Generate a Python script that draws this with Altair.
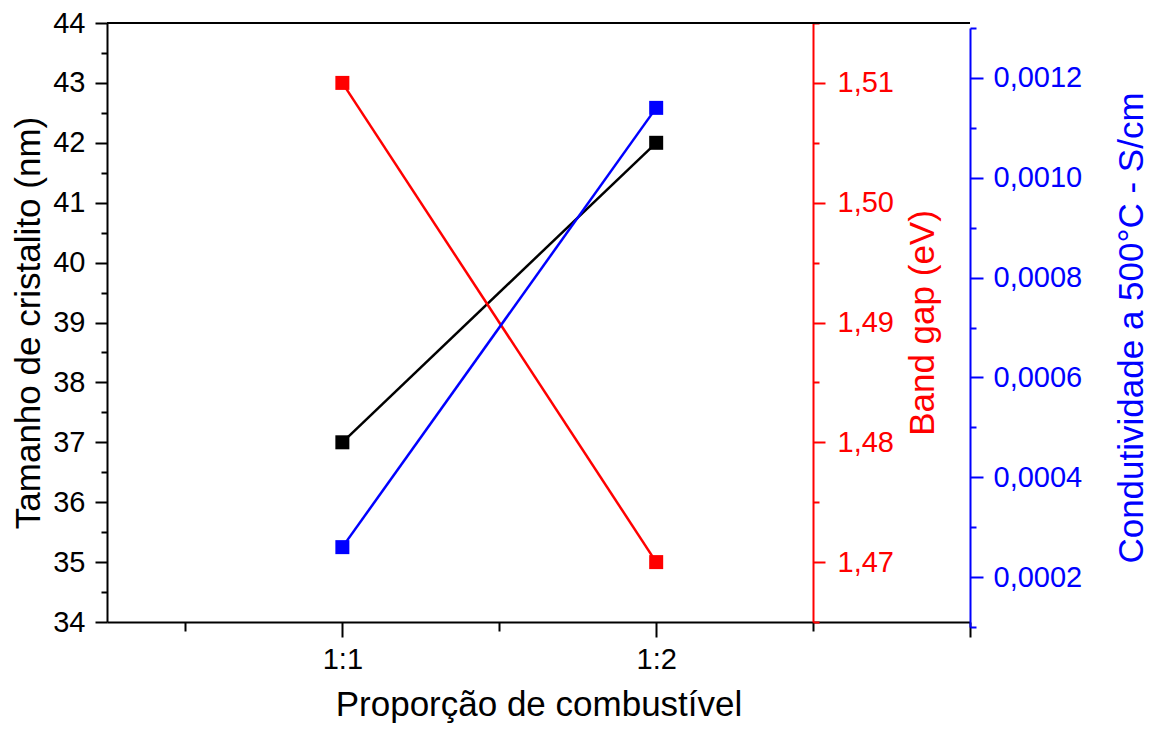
import altair as alt
import pandas as pd

# ---- data ----
categories = ["1:1", "1:2"]
crystallite_nm = [37, 42]
band_gap_ev = [1.51, 1.47]
conductivity_s_cm = [0.00026, 0.00114]

# ---- axis tick lists ----
x_ticks = [0.5, 1, 1.5, 2, 2.5, 3]
left_ticks = [34, 34.5, 35, 35.5, 36, 36.5, 37, 37.5, 38, 38.5, 39, 39.5,
              40, 40.5, 41, 41.5, 42, 42.5, 43, 43.5, 44]
red_ticks = [1.465, 1.47, 1.475, 1.48, 1.485, 1.49, 1.495, 1.5, 1.505, 1.51, 1.515]
blue_ticks = [0.0001, 0.0002, 0.0003, 0.0004, 0.0005, 0.0006, 0.0007,
              0.0008, 0.0009, 0.0010, 0.0011, 0.0012, 0.0013]

df = pd.DataFrame({
    "cat": categories,
    "pos": [i + 1 for i in range(len(categories))],
    "crystallite": crystallite_nm,
    "bandgap": band_gap_ev,
    "cond": conductivity_s_cm,
})

W, H = 863, 599
FONT = "Liberation Sans"
TICK_FS = 29
TITLE_FS = 35

def cond_size(test, big, small):
    return {"condition": {"test": test, "value": big}, "value": small}

cat_list = "[" + ",".join("'" + c + "'" for c in categories) + "]"

x_enc = alt.X(
    "pos:Q",
    scale=alt.Scale(domain=[0.25, 3.0], nice=False, zero=False),
    axis=alt.Axis(
        orient="bottom", values=x_ticks,
        labelExpr=cat_list + "[datum.value - 1] || ''",
        tickSize=cond_size("datum.value % 1 === 0", 15, 9),
        tickWidth=2, tickColor="black", domainColor="black", domainWidth=2,
        labelFont=FONT, labelFontSize=TICK_FS, labelColor="black",
        labelPadding=8, labelFlush=False, labelOverlap=False, labelBound=False,
        title="Proporção de combustível", titleFont=FONT, titleFontSize=TITLE_FS,
        titleFontWeight="normal", titleColor="black", titleY=93,
        titleBaseline="alphabetic", grid=False,
    ),
)

def series(field, color, scale, axis):
    return alt.Chart(df).mark_line(
        color=color, strokeWidth=2.5,
        point=alt.OverlayMarkDef(shape="square", size=196, filled=True,
                                 color=color, opacity=1),
    ).encode(x=x_enc, y=alt.Y(field + ":Q", scale=scale, axis=axis))

black = series(
    "crystallite", "black",
    alt.Scale(domain=[34, 44], nice=False, zero=False),
    alt.Axis(
        orient="left", values=left_ticks,
        labelExpr="datum.value % 1 === 0 ? format(datum.value, 'd') : ''",
        tickSize=cond_size("datum.value % 1 === 0", 12, 6),
        tickWidth=2, tickColor="black", domainColor="black", domainWidth=2,
        labelFont=FONT, labelFontSize=TICK_FS, labelColor="black",
        labelPadding=10, labelOverlap=False, labelFlush=False, labelBound=False,
        title="Tamanho de cristalito (nm)", titleFont=FONT,
        titleFontSize=TITLE_FS, titleFontWeight="normal", titleColor="black",
        titleX=-79, titleY=H / 2, titleAngle=270, titleAlign="center",
        titleBaseline="middle", grid=False,
    ),
)

red = series(
    "bandgap", "#ff0000",
    alt.Scale(domain=[1.465, 1.515], nice=False, zero=False),
    alt.Axis(
        orient="right", offset=-157, values=red_ticks,
        labelExpr="round(datum.value * 1000) % 10 === 0 ? replace(format(datum.value, '.2f'), '.', ',') : ''",
        tickSize=cond_size("round(datum.value * 1000) % 10 === 0", 12, 6),
        tickWidth=2, tickColor="#ff0000", domainColor="#ff0000", domainWidth=2,
        labelFont=FONT, labelFontSize=TICK_FS, labelColor="#ff0000",
        labelPadding=12, labelOverlap=False, labelFlush=False, labelBound=False,
        title="Band gap (eV)", titleFont=FONT, titleFontSize=TITLE_FS,
        titleFontWeight="normal", titleColor="#ff0000",
        titleX=109, titleY=H / 2, titleAngle=270, titleAlign="center",
        titleBaseline="middle", grid=False,
    ),
)

blue = series(
    "cond", "#0000ff",
    alt.Scale(domain=[0.0001, 0.0013], nice=False, zero=False, range=[H + 5, 5]),
    alt.Axis(
        orient="right", values=blue_ticks,
        labelExpr="round(datum.value * 10000) % 2 === 0 ? replace(format(datum.value, '.4f'), '.', ',') : ''",
        tickSize=cond_size("round(datum.value * 10000) % 2 === 0", 13, 6),
        tickWidth=2, tickColor="#0000ff", domainColor="#0000ff", domainWidth=2,
        labelFont=FONT, labelFontSize=TICK_FS, labelColor="#0000ff",
        labelPadding=10, labelOverlap=False, labelFlush=False, labelBound=False,
        title="Condutividade a 500°C - S/cm", titleFont=FONT,
        titleFontSize=TITLE_FS, titleFontWeight="normal", titleColor="#0000ff",
        titleX=161, titleY=H / 2 + 5, titleAngle=270, titleAlign="center",
        titleBaseline="middle", grid=False,
    ),
)

top_border = alt.Chart(pd.DataFrame({"k": [0]})).mark_rule(
    color="black", strokeWidth=2
).encode(x=alt.value(0), x2=alt.value(W), y=alt.value(0))

chart = alt.layer(black, red, blue, top_border).resolve_scale(
    y="independent"
).properties(
    width=W, height=H,
    padding={"left": 107, "top": 23, "right": 1151 - 107 - W, "bottom": 729 - 23 - H},
    autosize=alt.AutoSizeParams(type="none"),
    background="white",
).configure_view(stroke=None)

chart.save("out.html", embed_options={"renderer": "svg", "actions": False})
